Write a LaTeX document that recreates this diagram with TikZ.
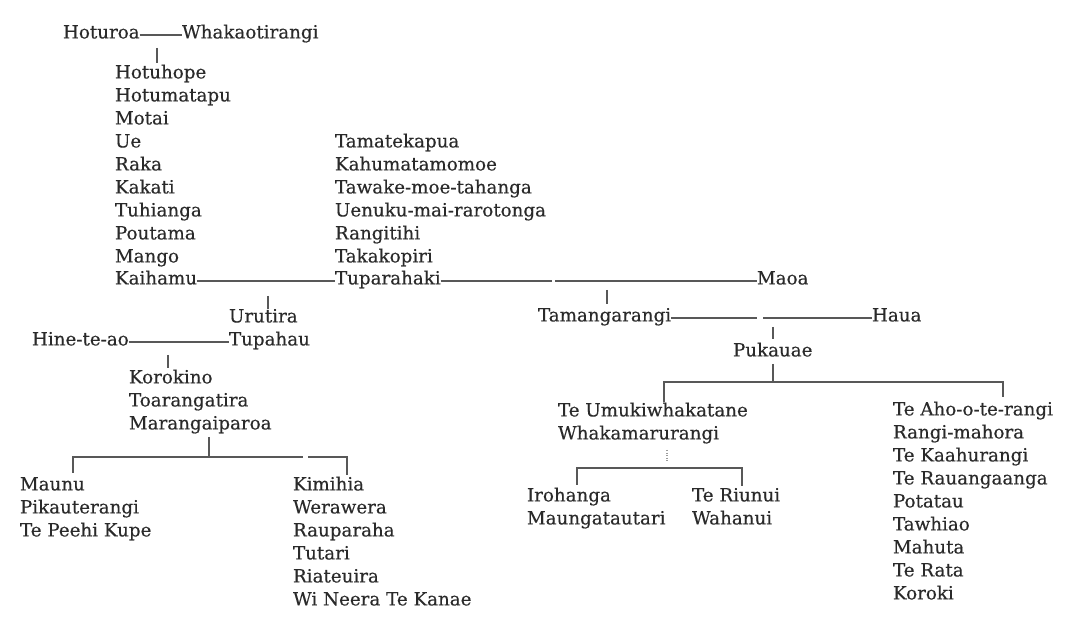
\documentclass[tikz,border=0pt]{standalone}
\usepackage{fontspec}
\setmainfont[FakeBold=0.35]{DejaVu Serif}
\definecolor{ink}{HTML}{2A2A2A}
\definecolor{rulec}{HTML}{585858}
\begin{document}
\begin{tikzpicture}[x=0.75pt,y=-0.75pt,
  nm/.style={anchor=mid west,inner sep=0pt,outer sep=0pt,text=ink,font=\fontsize{13.7}{16}\selectfont},
  ln/.style={draw=rulec,line width=0.9pt},
  dotln/.style={draw=rulec!60,line width=0.9pt,densely dotted}]
\useasboundingbox[fill=white] (0,0) rectangle (1071,630);

% top couple
\node[nm] (hoturoa) at (63,35) {Hoturoa};
\node[nm] (whakao) at (182,35) {Whakaotirangi};
\draw[ln] (hoturoa.mid east) -- (whakao.mid west);
\coordinate (s1a) at (157,48); \coordinate (s1b) at (157,63);
\draw[ln] (s1a) -- (s1b);

% column A
\node[nm] (hotuhope) at (115,75) {Hotuhope};
\node[nm] (hotumatapu) at (115,98) {Hotumatapu};
\node[nm] (motai) at (115,121) {Motai};
\node[nm] (ue) at (115,144) {Ue};
\node[nm] (raka) at (115,167) {Raka};
\node[nm] (kakati) at (115,190) {Kakati};
\node[nm] (tuhianga) at (115,213) {Tuhianga};
\node[nm] (poutama) at (115,236) {Poutama};
\node[nm] (mango) at (115,259) {Mango};
\node[nm] (kaihamu) at (115,281) {Kaihamu};

% column B
\node[nm] (tamatekapua) at (335,144) {Tamatekapua};
\node[nm] (kahumata) at (335,167) {Kahumatamomoe};
\node[nm] (tawake) at (335,190) {Tawake-moe-tahanga};
\node[nm] (uenuku) at (335,213) {Uenuku-mai-rarotonga};
\node[nm] (rangitihi) at (335,236) {Rangitihi};
\node[nm] (takakopiri) at (335,259) {Takakopiri};
\node[nm] (tuparahaki) at (335,281) {Tuparahaki};
\draw[ln] (kaihamu.mid east) -- (tuparahaki.mid west);

\node[nm] (maoa) at (757,281) {Maoa};
\coordinate (g1a) at (552,281); \coordinate (g1b) at (555,281);
\draw[ln] (tuparahaki.mid east) -- (g1a);
\draw[ln] (g1b) -- (maoa.mid west);

% Urutira branch
\coordinate (s2a) at (268,296); \coordinate (s2b) at (268,309);
\draw[ln] (s2a) -- (s2b);
\node[nm] (urutira) at (229,319) {Urutira};
\node[nm] (tupahau) at (229,342) {Tupahau};
\node[nm] (hineteao) at (32,342) {Hine-te-ao};
\draw[ln] (hineteao.mid east) -- (tupahau.mid west);
\coordinate (s3a) at (168,355); \coordinate (s3b) at (168,368);
\draw[ln] (s3a) -- (s3b);
\node[nm] (korokino) at (129,380) {Korokino};
\node[nm] (toarangatira) at (129,403) {Toarangatira};
\node[nm] (marangaiparoa) at (129,426) {Marangaiparoa};
\coordinate (s4a) at (209,437); \coordinate (s4b) at (209,457);
\draw[ln] (s4a) -- (s4b);
\coordinate (b1l) at (73,457); \coordinate (b1r) at (347,457);
\coordinate (g2a) at (303,457); \coordinate (g2b) at (308,457);
\coordinate (d1l) at (73,473); \coordinate (d1r) at (347,475);
\draw[ln] (d1l) -- (b1l) -- (g2a);
\draw[ln] (g2b) -- (b1r) -- (d1r);

\node[nm] (maunu) at (20,487) {Maunu};
\node[nm] (pikauterangi) at (20,510) {Pikauterangi};
\node[nm] (tepeehi) at (20,533) {Te Peehi Kupe};

\node[nm] (kimihia) at (293,487) {Kimihia};
\node[nm] (werawera) at (293,510) {Werawera};
\node[nm] (rauparaha) at (293,533) {Rauparaha};
\node[nm] (tutari) at (293,556) {Tutari};
\node[nm] (riateuira) at (293,579) {Riateuira};
\node[nm] (wineera) at (293,602) {Wi Neera Te Kanae};

% Tamangarangi branch
\coordinate (s5a) at (607,290); \coordinate (s5b) at (607,304);
\draw[ln] (s5a) -- (s5b);
\node[nm] (tamangarangi) at (538,318) {Tamangarangi};
\node[nm] (haua) at (872,318) {Haua};
\coordinate (g3a) at (757,318); \coordinate (g3b) at (763,318);
\draw[ln] (tamangarangi.mid east) -- (g3a);
\draw[ln] (g3b) -- (haua.mid west);
\coordinate (s6a) at (773,327); \coordinate (s6b) at (773,339);
\draw[ln] (s6a) -- (s6b);
\node[nm] (pukauae) at (733,353) {Pukauae};
\coordinate (s7a) at (773,364); \coordinate (s7b) at (773,382);
\draw[ln] (s7a) -- (s7b);
\coordinate (b2l) at (664,382); \coordinate (b2r) at (1003,382);
\coordinate (d2l) at (664,402); \coordinate (d2r) at (1003,397);
\draw[ln] (d2l) -- (b2l) -- (b2r) -- (d2r);

\node[nm] (teumuki) at (558,413) {Te Umukiwhakatane};
\node[nm] (whakamaru) at (558,436) {Whakamarurangi};
\coordinate (s8a) at (667,450); \coordinate (s8b) at (667,462);
\draw[dotln] (s8a) -- (s8b);
\coordinate (b3l) at (577,468); \coordinate (b3r) at (742,468);
\coordinate (d3l) at (577,485); \coordinate (d3r) at (742,486);
\draw[ln] (d3l) -- (b3l) -- (b3r) -- (d3r);
\node[nm] (irohanga) at (527,498) {Irohanga};
\node[nm] (maungatautari) at (527,521) {Maungatautari};
\node[nm] (teriunui) at (692,498) {Te Riunui};
\node[nm] (wahanui) at (692,521) {Wahanui};

\node[nm] (teaho) at (893,412) {Te Aho-o-te-rangi};
\node[nm] (rangimahora) at (893,435) {Rangi-mahora};
\node[nm] (tekaahurangi) at (893,458) {Te Kaahurangi};
\node[nm] (terauangaanga) at (893,481) {Te Rauangaanga};
\node[nm] (potatau) at (893,504) {Potatau};
\node[nm] (tawhiao) at (893,527) {Tawhiao};
\node[nm] (mahuta) at (893,550) {Mahuta};
\node[nm] (terata) at (893,573) {Te Rata};
\node[nm] (koroki) at (893,596) {Koroki};
\end{tikzpicture}
\end{document}
